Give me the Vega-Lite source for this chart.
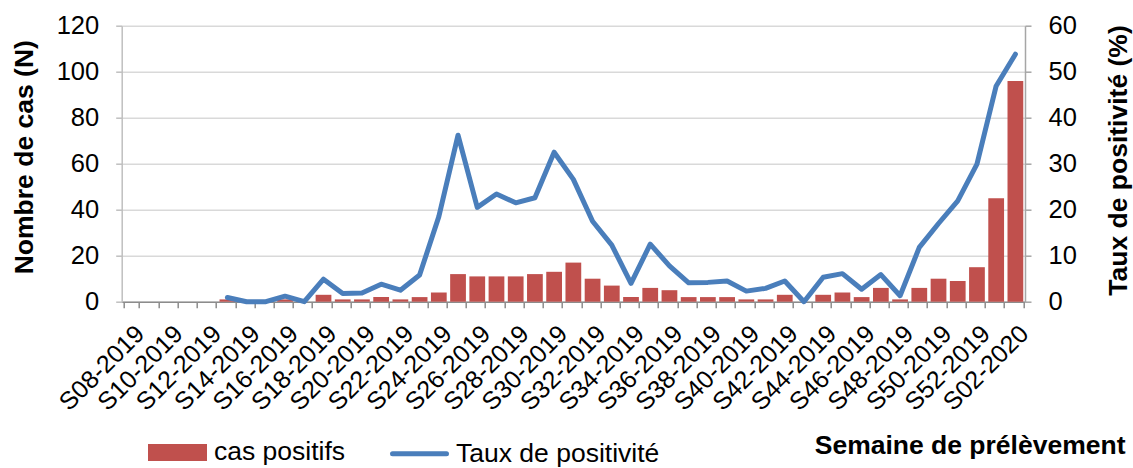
{
  "$schema": "https://vega.github.io/schema/vega-lite/v6.json",
  "autosize": {"type": "none"},
  "padding": {"left": 121.7, "top": 25.7, "right": 108, "bottom": 166.3},
  "width": 903.3,
  "height": 276,
  "background": "white",
  "config": {
    "font": "Liberation Sans",
    "view": {"stroke": null},
    "axis": {"labelFont": "Liberation Sans", "titleFont": "Liberation Sans", "labelColor": "#000000", "titleColor": "#000000"},
    "legend": {"labelFont": "Liberation Sans"}
  },
  "data": {
    "values": [
      {"semaine": "S08-2019", "cas": null, "taux": null},
      {"semaine": "S09-2019", "cas": null, "taux": null},
      {"semaine": "S10-2019", "cas": null, "taux": null},
      {"semaine": "S11-2019", "cas": null, "taux": null},
      {"semaine": "S12-2019", "cas": null, "taux": null},
      {"semaine": "S13-2019", "cas": 1, "taux": 0.9},
      {"semaine": "S14-2019", "cas": 0, "taux": 0},
      {"semaine": "S15-2019", "cas": 0, "taux": 0},
      {"semaine": "S16-2019", "cas": 1, "taux": 1.2},
      {"semaine": "S17-2019", "cas": 0, "taux": 0},
      {"semaine": "S18-2019", "cas": 3, "taux": 4.9},
      {"semaine": "S19-2019", "cas": 1, "taux": 1.8},
      {"semaine": "S20-2019", "cas": 1, "taux": 1.9},
      {"semaine": "S21-2019", "cas": 2, "taux": 3.8},
      {"semaine": "S22-2019", "cas": 1, "taux": 2.5},
      {"semaine": "S23-2019", "cas": 2, "taux": 5.8},
      {"semaine": "S24-2019", "cas": 4, "taux": 18.5},
      {"semaine": "S25-2019", "cas": 12, "taux": 36.2},
      {"semaine": "S26-2019", "cas": 11, "taux": 20.5},
      {"semaine": "S27-2019", "cas": 11, "taux": 23.4},
      {"semaine": "S28-2019", "cas": 11, "taux": 21.5},
      {"semaine": "S29-2019", "cas": 12, "taux": 22.6},
      {"semaine": "S30-2019", "cas": 13, "taux": 32.5},
      {"semaine": "S31-2019", "cas": 17, "taux": 26.6},
      {"semaine": "S32-2019", "cas": 10, "taux": 17.5},
      {"semaine": "S33-2019", "cas": 7, "taux": 12.3},
      {"semaine": "S34-2019", "cas": 2, "taux": 4.0},
      {"semaine": "S35-2019", "cas": 6, "taux": 12.5},
      {"semaine": "S36-2019", "cas": 5, "taux": 7.8},
      {"semaine": "S37-2019", "cas": 2, "taux": 4.1},
      {"semaine": "S38-2019", "cas": 2, "taux": 4.2},
      {"semaine": "S39-2019", "cas": 2, "taux": 4.5},
      {"semaine": "S40-2019", "cas": 1, "taux": 2.3},
      {"semaine": "S41-2019", "cas": 1, "taux": 2.9},
      {"semaine": "S42-2019", "cas": 3, "taux": 4.5},
      {"semaine": "S43-2019", "cas": 0, "taux": 0},
      {"semaine": "S44-2019", "cas": 3, "taux": 5.3},
      {"semaine": "S45-2019", "cas": 4, "taux": 6.1},
      {"semaine": "S46-2019", "cas": 2, "taux": 2.7},
      {"semaine": "S47-2019", "cas": 6, "taux": 5.9},
      {"semaine": "S48-2019", "cas": 1, "taux": 1.3},
      {"semaine": "S49-2019", "cas": 6, "taux": 11.8},
      {"semaine": "S50-2019", "cas": 10, "taux": 17.0},
      {"semaine": "S51-2019", "cas": 9, "taux": 21.9},
      {"semaine": "S52-2019", "cas": 15, "taux": 29.9},
      {"semaine": "S01-2020", "cas": 45, "taux": 46.9},
      {"semaine": "S02-2020", "cas": 96, "taux": 53.8}
    ]
  },
  "encoding": {
    "x": {
      "field": "semaine",
      "type": "nominal",
      "sort": null,
      "scale": {
        "domain": ["S08-2019", "S09-2019", "S10-2019", "S11-2019", "S12-2019", "S13-2019", "S14-2019", "S15-2019", "S16-2019", "S17-2019", "S18-2019", "S19-2019", "S20-2019", "S21-2019", "S22-2019", "S23-2019", "S24-2019", "S25-2019", "S26-2019", "S27-2019", "S28-2019", "S29-2019", "S30-2019", "S31-2019", "S32-2019", "S33-2019", "S34-2019", "S35-2019", "S36-2019", "S37-2019", "S38-2019", "S39-2019", "S40-2019", "S41-2019", "S42-2019", "S43-2019", "S44-2019", "S45-2019", "S46-2019", "S47-2019", "S48-2019", "S49-2019", "S50-2019", "S51-2019", "S52-2019", "S01-2020", "S02-2020"],
        "paddingInner": 0.18,
        "paddingOuter": 0.09
      },
      "axis": {
        "title": "Semaine de prélèvement",
        "titleFontSize": 26.5,
        "titleFontWeight": "bold",
        "titleX": 1003.3,
        "titleY": 151.3,
        "titleAlign": "right",
        "titleBaseline": "alphabetic",
        "labelAngle": -45,
        "labelFontSize": 25,
        "labelOverlap": false,
        "labelExpr": "toNumber(substring(datum.value, 1, 3)) % 2 == 0 ? datum.value : ''",
        "labelPadding": 13,
        "tickBand": "extent",
        "tickSize": 6,
        "tickWidth": 1.5,
        "tickColor": "#8c8c8c",
        "domainColor": "#8c8c8c",
        "domainWidth": 1.5,
        "grid": false
      }
    }
  },
  "layer": [
    {
      "mark": {"type": "bar"},
      "encoding": {
        "y": {
          "field": "cas",
          "type": "quantitative",
          "scale": {"domain": [0, 120], "nice": false},
          "axis": {
            "orient": "left",
            "values": [0, 20, 40, 60, 80, 100, 120],
            "grid": true,
            "gridColor": "#d9d9d9",
            "gridWidth": 1.5,
            "domainColor": "#bfbfbf",
            "domainWidth": 1.5,
            "tickColor": "#bfbfbf",
            "tickWidth": 1.5,
            "tickSize": 6,
            "labelFontSize": 25.5,
            "labelPadding": 17,
            "title": "Nombre de cas (N)",
            "titleFontSize": 26.5,
            "titleFontWeight": "bold",
            "titleAngle": 270,
            "titleX": -89.7,
            "titleY": 131,
            "titleAlign": "center",
            "titleBaseline": "alphabetic"
          }
        },
        "color": {
          "datum": "cas positifs",
          "type": "nominal",
          "scale": {"domain": ["cas positifs", "Taux de positivité"], "range": ["#C0504D", "#4A7EBB"]},
          "legend": {
            "orient": "none",
            "legendX": 26.3,
            "legendY": 397,
            "direction": "horizontal",
            "title": null,
            "padding": 0,
            "labelFontSize": 26.5,
            "labelLimit": 500,
            "labelColor": "#000000",
            "symbolSize": 2916,
            "labelOffset": 7,
            "columnPadding": 36,
            "encode": {
              "symbols": {
                "update": {
                  "shape": {"signal": "datum.value === 'cas positifs' ? 'M-1,-0.22H1V0.22H-1Z' : 'M-1,0H1'"},
                  "fill": {"signal": "datum.value === 'cas positifs' ? '#C0504D' : 'transparent'"},
                  "stroke": {"signal": "datum.value === 'cas positifs' ? 'transparent' : '#4A7EBB'"},
                  "strokeWidth": {"value": 5},
                  "strokeCap": {"value": "round"},
                  "opacity": {"value": 1}
                }
              }
            }
          }
        }
      }
    },
    {
      "mark": {"type": "line", "strokeWidth": 5, "strokeCap": "round", "strokeJoin": "round"},
      "encoding": {
        "y": {
          "field": "taux",
          "type": "quantitative",
          "scale": {"domain": [0, 60], "nice": false},
          "axis": {
            "orient": "right",
            "values": [0, 10, 20, 30, 40, 50, 60],
            "grid": false,
            "domainColor": "#a6a6a6",
            "domainWidth": 1.5,
            "tickColor": "#a6a6a6",
            "tickWidth": 1.5,
            "tickSize": 6,
            "labelFontSize": 25.5,
            "labelPadding": 17,
            "title": "Taux de positivité (%)",
            "titleFontSize": 26.5,
            "titleFontWeight": "bold",
            "titleAngle": 270,
            "titleX": 101,
            "titleY": 134.3,
            "titleAlign": "center",
            "titleBaseline": "alphabetic"
          }
        },
        "color": {"datum": "Taux de positivité", "type": "nominal"}
      }
    }
  ],
  "resolve": {"scale": {"y": "independent"}}
}
